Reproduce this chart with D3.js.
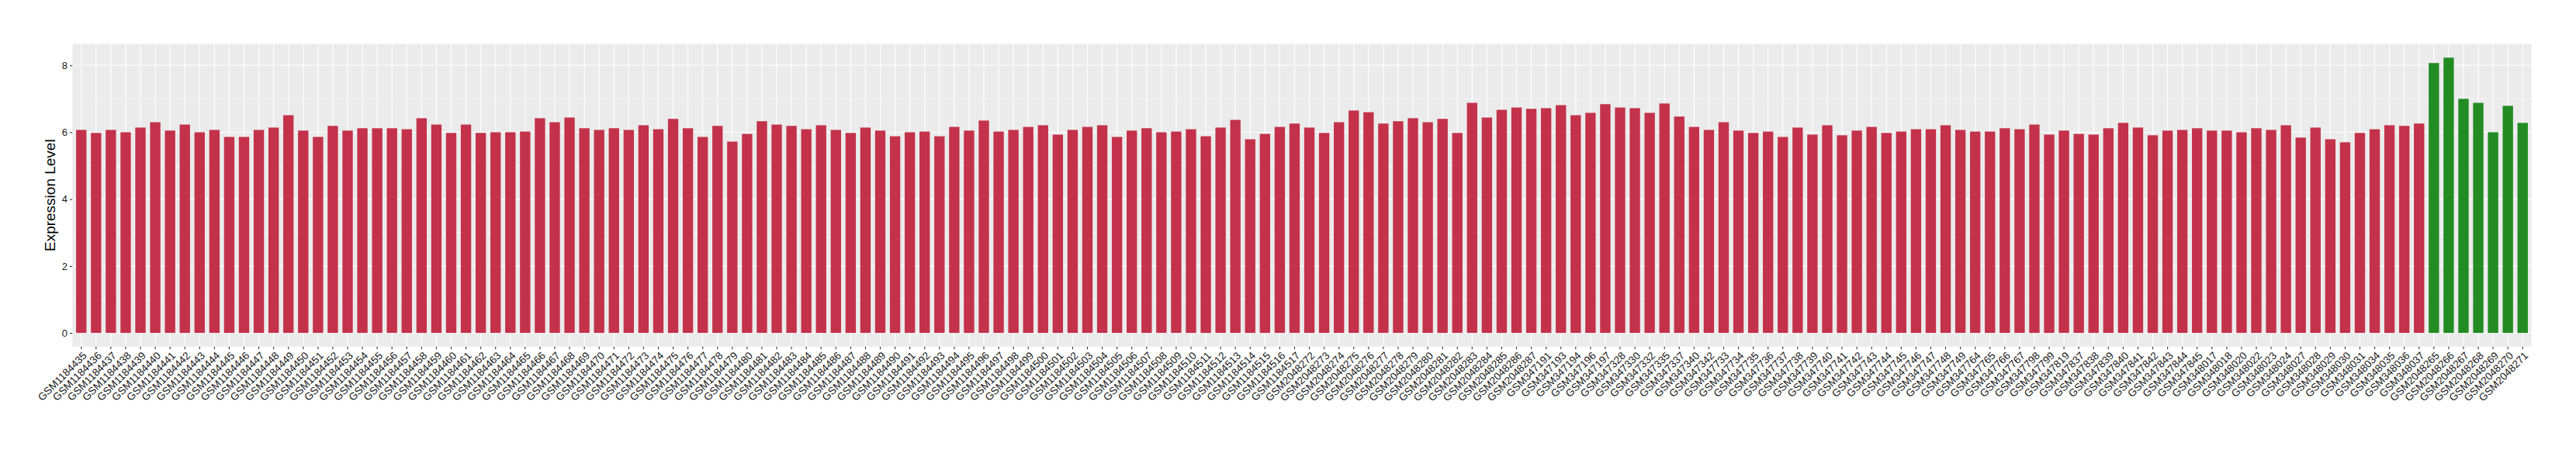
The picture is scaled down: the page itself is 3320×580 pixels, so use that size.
<!DOCTYPE html>
<html><head><meta charset="utf-8">
<script src="https://cdn.jsdelivr.net/npm/d3@7"></script>
<style>body{margin:0;background:#fff}</style>
</head><body>
<svg id="chart" width="3320" height="580"></svg>
<script>
const samples = [
"GSM1184435","GSM1184436","GSM1184437","GSM1184438","GSM1184439","GSM1184440","GSM1184441","GSM1184442","GSM1184443","GSM1184444",
"GSM1184445","GSM1184446","GSM1184447","GSM1184448","GSM1184449","GSM1184450","GSM1184451","GSM1184452","GSM1184453","GSM1184454",
"GSM1184455","GSM1184456","GSM1184457","GSM1184458","GSM1184459","GSM1184460","GSM1184461","GSM1184462","GSM1184463","GSM1184464",
"GSM1184465","GSM1184466","GSM1184467","GSM1184468","GSM1184469","GSM1184470","GSM1184471","GSM1184472","GSM1184473","GSM1184474",
"GSM1184475","GSM1184476","GSM1184477","GSM1184478","GSM1184479","GSM1184480","GSM1184481","GSM1184482","GSM1184483","GSM1184484",
"GSM1184485","GSM1184486","GSM1184487","GSM1184488","GSM1184489","GSM1184490","GSM1184491","GSM1184492","GSM1184493","GSM1184494",
"GSM1184495","GSM1184496","GSM1184497","GSM1184498","GSM1184499","GSM1184500","GSM1184501","GSM1184502","GSM1184503","GSM1184504",
"GSM1184505","GSM1184506","GSM1184507","GSM1184508","GSM1184509","GSM1184510","GSM1184511","GSM1184512","GSM1184513","GSM1184514",
"GSM1184515","GSM1184516","GSM1184517",
"GSM2048272","GSM2048273","GSM2048274","GSM2048275","GSM2048276","GSM2048277","GSM2048278","GSM2048279","GSM2048280","GSM2048281",
"GSM2048282","GSM2048283","GSM2048284","GSM2048285","GSM2048286","GSM2048287",
"GSM347191","GSM347193","GSM347194","GSM347196","GSM347197",
"GSM347328","GSM347330","GSM347332","GSM347335","GSM347337","GSM347340","GSM347342",
"GSM347733","GSM347734","GSM347735","GSM347736","GSM347737","GSM347738","GSM347739","GSM347740","GSM347741","GSM347742",
"GSM347743","GSM347744","GSM347745","GSM347746","GSM347747","GSM347748","GSM347749",
"GSM347764","GSM347765","GSM347766","GSM347767","GSM347798","GSM347799","GSM347819",
"GSM347837","GSM347838","GSM347839","GSM347840","GSM347841","GSM347842","GSM347843","GSM347844","GSM347845",
"GSM348017","GSM348018","GSM348020","GSM348022","GSM348023","GSM348024","GSM348027","GSM348028","GSM348029","GSM348030",
"GSM348031","GSM348034","GSM348035","GSM348036","GSM348037",
"GSM2048265","GSM2048266","GSM2048267","GSM2048268","GSM2048269","GSM2048270","GSM2048271"
];

const expression = [
6.07,5.98,6.07,6.00,6.14,6.30,6.05,6.23,6.00,6.07,
5.86,5.86,6.07,6.14,6.51,6.05,5.86,6.19,6.05,6.12,
6.12,6.12,6.09,6.42,6.23,5.98,6.23,5.98,6.00,6.00,
6.02,6.42,6.30,6.44,6.12,6.07,6.12,6.07,6.21,6.09,
6.40,6.12,5.86,6.19,5.72,5.95,6.33,6.23,6.19,6.09,
6.21,6.07,5.98,6.14,6.05,
5.88,6.00,6.02,5.88,6.16,6.05,6.35,6.02,6.07,6.16,
6.21,5.93,6.07,6.16,6.21,5.86,6.05,6.12,6.00,6.02,
6.09,5.88,6.14,6.37,5.79,5.95,6.16,6.26,6.14,5.98,
6.30,6.65,6.60,6.26,6.33,6.42,6.30,6.40,5.98,6.88,
6.44,6.67,6.74,6.70,6.72,6.81,6.51,6.58,6.84,6.74,
6.72,6.58,6.86,6.47,6.16,
6.07,6.30,6.05,5.98,6.02,5.86,6.14,5.93,6.21,5.91,
6.05,6.16,5.98,6.02,6.09,6.09,6.21,6.07,6.02,6.02,
6.12,6.09,6.23,5.93,6.05,5.95,5.93,6.12,6.28,6.14,
5.91,6.05,6.07,6.12,6.05,6.05,6.00,6.12,6.07,6.21,
5.84,6.14,5.79,5.70,5.98,6.09,6.21,6.19,6.26,
8.07,8.23,7.00,6.88,6.00,6.79,6.28
];

const greenSamples = ["GSM2048265","GSM2048266","GSM2048267","GSM2048268","GSM2048269","GSM2048270","GSM2048271"];
const yTicks = [0, 2, 4, 6, 8];
const yMinor = [1, 3, 5, 7];
const yTitle = "Expression Level";

const data = samples.map((s, i) => ({ sample: s, value: expression[i] }));

const svg = d3.select("#chart");
const L = 93.3, R = 3262.7, T = 56.6, B = 446.8;
const font = "'Liberation Sans', Arial, Helvetica, sans-serif";

const x = d3.scaleBand().domain(samples).range([L, R]).paddingInner(0.3).paddingOuter(0.25);
const vmax = d3.max(expression);
const pad = vmax * 0.05;
const y = d3.scaleLinear().domain([-pad, vmax + pad]).range([B, T]);

svg.append("rect").attr("x", L).attr("y", T).attr("width", R - L).attr("height", B - T).attr("fill", "#EBEBEB");

const grid = svg.append("g");
grid.selectAll("line.minor").data(yMinor).join("line")
  .attr("x1", L).attr("x2", R).attr("y1", d => y(d)).attr("y2", d => y(d))
  .attr("stroke", "#fff").attr("stroke-width", 0.55);
grid.selectAll("line.majory").data(yTicks).join("line")
  .attr("x1", L).attr("x2", R).attr("y1", d => y(d)).attr("y2", d => y(d))
  .attr("stroke", "#fff").attr("stroke-width", 1.1);
grid.selectAll("line.majorx").data(samples).join("line")
  .attr("x1", d => x(d) + x.bandwidth() / 2).attr("x2", d => x(d) + x.bandwidth() / 2)
  .attr("y1", T).attr("y2", B)
  .attr("stroke", "#fff").attr("stroke-width", 1.1);

svg.append("g").selectAll("rect").data(data).join("rect")
  .attr("x", d => x(d.sample)).attr("width", x.bandwidth())
  .attr("y", d => y(d.value)).attr("height", d => y(0) - y(d.value))
  .attr("fill", d => greenSamples.includes(d.sample) ? "#228B22" : "#C3324A");

// y axis
const yAxis = svg.append("g").attr("transform", `translate(${L},0)`)
  .call(d3.axisLeft(y).tickValues(yTicks).tickSize(3.3).tickPadding(3).tickFormat(d3.format("d")));
yAxis.select(".domain").remove();
yAxis.selectAll(".tick line").attr("stroke", "#333").attr("stroke-width", 1.1);
yAxis.selectAll(".tick text").attr("fill", "#1a1a1a").style("font-family", font).style("font-size", "13px");

// x axis
const xAxis = svg.append("g").attr("transform", `translate(0,${B})`)
  .call(d3.axisBottom(x).tickSize(3.3).tickFormat(""));
xAxis.select(".domain").remove();
xAxis.selectAll(".tick line").attr("stroke", "#333").attr("stroke-width", 1.1);

svg.append("g").selectAll("text").data(samples).join("text")
  .attr("transform", d => `translate(${x(d) + x.bandwidth() / 2 + 1},${B + 5.5}) rotate(-45)`)
  .attr("text-anchor", "end").attr("dy", "0.72em")
  .style("font-family", font).style("font-size", "13.5px").attr("fill", "#1a1a1a")
  .text(d => d);

svg.append("text")
  .attr("transform", `translate(71,${(T + B) / 2}) rotate(-90)`)
  .attr("text-anchor", "middle")
  .style("font-family", font).style("font-size", "19px").attr("fill", "#000")
  .text(yTitle);
</script>
</body></html>
